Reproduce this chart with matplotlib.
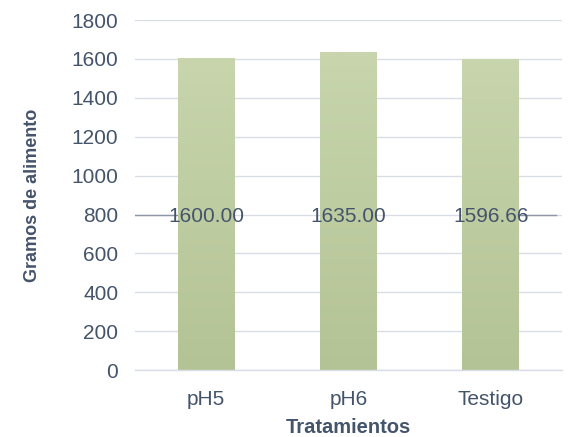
import numpy as np
import matplotlib
matplotlib.use("Agg")
import matplotlib.pyplot as plt
from matplotlib.colors import LinearSegmentedColormap

# data
tratamientos = ["pH5", "pH6", "Testigo"]
gramos = [1600.00, 1635.00, 1596.66]
y_ticks = [0, 200, 400, 600, 800, 1000, 1200, 1400, 1600, 1800]

txt = "#44546a"
plt.rcParams["font.family"] = ["Liberation Sans", "DejaVu Sans"]

fig = plt.figure(figsize=(5.69, 4.37), dpi=100)
ax = fig.add_axes([0.237, 0.153, 0.751, 0.801])

x = np.arange(len(tratamientos))
bars = ax.bar(x, gramos, width=0.4, color="none", edgecolor="none", zorder=2)

# vertical gradient fill for each bar
cmap = LinearSegmentedColormap.from_list("g", ["#b4c395", "#c8d5ad"])
grad = np.linspace(0, 1, 256).reshape(-1, 1)
for b in bars:
    x0, y0 = b.get_x(), b.get_y()
    ax.imshow(grad, cmap=cmap, origin="lower", aspect="auto",
              extent=[x0, x0 + b.get_width(), y0, y0 + b.get_height()],
              zorder=2)

ax.set_xlim(-0.5, len(tratamientos) - 0.5)
ax.set_ylim(0, 1800)
ax.set_yticks(y_ticks)
ax.set_xticks(x)
ax.set_xticklabels(tratamientos)

ax.grid(axis="y", color="#d9dde5", linewidth=1.0, zorder=0)
ax.set_axisbelow(True)

# darker segments of the 800 line outside the bars
ax.axhline(800, xmin=0, xmax=0.1, color="#8c96a4", linewidth=1.0, zorder=1)
ax.axhline(800, xmin=0.9, xmax=0.985, color="#8c96a4", linewidth=1.0, zorder=1)

for s in ["top", "right", "left"]:
    ax.spines[s].set_visible(False)
ax.spines["bottom"].set_color("#d9dde5")
ax.spines["bottom"].set_linewidth(1.0)

ax.tick_params(axis="both", length=0, labelsize=15, colors=txt)
ax.tick_params(axis="y", pad=12)
ax.tick_params(axis="x", pad=14)

# data labels sit around the middle of the axis
for xi, v in zip(x, gramos):
    ax.text(xi, 790, f"{v:.2f}", ha="center", va="center",
            fontsize=15, color=txt, zorder=3)

ax.set_xlabel("Tratamientos", fontsize=14.5, fontweight="bold", color=txt, labelpad=7)
ax.set_ylabel("Gramos de alimento", fontsize=13, fontweight="bold", color=txt, labelpad=22)

fig.savefig("out.png", dpi=100)
